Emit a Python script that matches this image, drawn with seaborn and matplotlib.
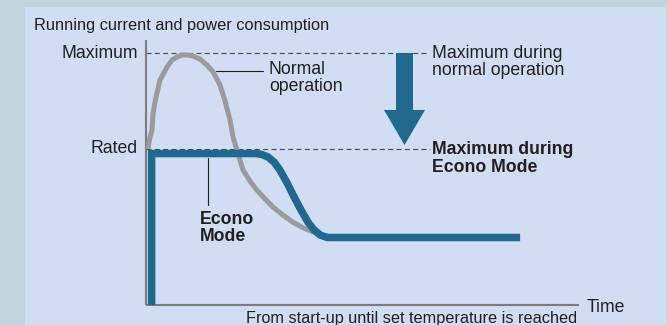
import numpy as np
import pandas as pd
import matplotlib
matplotlib.use("Agg")
import matplotlib.pyplot as plt
from matplotlib.patches import Rectangle, FancyArrow
import seaborn as sns

# Levels (percent of maximum running current)
MAXIMUM = 100
RATED = 62
AXIS_END = 100          # end of the time axis

# Normal operation: overshoots to the maximum, then settles
normal_t = [0.46, 0.92, 1.39, 1.62, 2.31, 3.23, 4.85, 6.0, 7.16, 8.31, 9.47, 10.85,
            12.47, 14.1, 15.5, 17.1, 18.2, 19.4, 20.1, 21.0, 22.4, 24.0, 25.6, 27.5,
            29.3, 31.6, 33.9, 36.3, 38.6, 40.6, 42.5]
normal_level = [61.9, 66.7, 69.4, 76.2, 82.5, 89.3, 94.4, 97.2, 98.4, 99.2, 99.2, 98.8,
                97.6, 95.2, 92.5, 87.3, 81.3, 73.4, 66.7, 61.5, 53.6, 49.2, 45.6, 42.1,
                38.9, 35.7, 32.9, 30.6, 29.0, 27.8, 27.0]

# Econo Mode: capped at the rated level, then settles
econo_t = [1.3, 1.3, 25.6, 26.8, 28.2, 29.6, 30.9, 32.6, 34.2, 35.8, 37.4, 38.8,
           40.2, 41.8, 86.4]
econo_level = [0, 60.1, 60.1, 59.7, 58.7, 56.7, 53.6, 48.4, 42.9, 37.7, 32.9, 29.8,
               27.8, 26.8, 26.8]

y_labels = ["Maximum", "Rated"]
title = "Running current and power consumption"
x_label = "Time"
x_caption = "From start-up until set temperature is reached"
normal_label = "Normal\noperation"
econo_label = "Econo\nMode"
max_normal_text = "Maximum during\nnormal operation"
max_econo_text = "Maximum during\nEcono Mode"

BLUE = "#21688f"
GREY = "#9b9b9b"
TEXT = "#231f20"
AXIS = "#7d7d7d"
OUTER_BG = "#c4d4dd"
INNER_BG = "#d0ddf2"

sns.set_style("white")
plt.rcParams["font.family"] = ["Liberation Sans", "DejaVu Sans"]

W, H = 667, 325
fig = plt.figure(figsize=(W / 100, H / 100), dpi=100, facecolor=OUTER_BG)
panel = Rectangle((25 / W, 0), (666 - 25) / W, (H - 7) / H,
                  transform=fig.transFigure, facecolor=INNER_BG,
                  edgecolor="none", zorder=-10)
fig.patches.append(panel)

ax = fig.add_axes([0, 0, 1, 1], zorder=1)
ax.set_facecolor("none")

# axes lines
ax.plot([0, 0], [0, 105.2], color=AXIS, lw=1.5, solid_capstyle="butt", zorder=2)
ax.plot([0, AXIS_END], [0, 0], color=AXIS, lw=1.5, solid_capstyle="butt", zorder=2)

# reference levels
for lvl, end in [(MAXIMUM, 65.1), (RATED, 65.6)]:
    ax.plot([0, end], [lvl, lvl], color="#4a4a4a", lw=0.8, ls=(0, (4.5, 3)), zorder=1)

normal_df = pd.DataFrame({"t": normal_t, "level": normal_level})
econo_df = pd.DataFrame({"t": econo_t, "level": econo_level})
sns.lineplot(data=normal_df, x="t", y="level", sort=False, estimator=None,
             color=GREY, linewidth=3.6, solid_capstyle="butt",
             solid_joinstyle="round", ax=ax, zorder=3)
sns.lineplot(data=econo_df, x="t", y="level", sort=False, estimator=None,
             color=BLUE, linewidth=5.4, solid_capstyle="butt",
             solid_joinstyle="miter", ax=ax, zorder=4)
# scale: 4.33 px per time unit, 2.52 px per level unit; origin at (146, 305) px
ax.set_xlim(-146 / 4.33, (W - 146) / 4.33)
ax.set_ylim((305 - H) / 2.52, 305 / 2.52)
ax.axis("off")

# reduction arrow from maximum down to the rated level
ax.add_patch(FancyArrow(59.7, MAXIMUM, 0, 63.5 - MAXIMUM, width=17 / 4.33,
                        head_width=41 / 4.33, head_length=35 / 2.52,
                        length_includes_head=True, color=BLUE, lw=0, zorder=3))

fs = 12.7
ax.text(-25.9, 111.1, title, ha="left", va="center", fontsize=11.8, color=TEXT)
ax.text(-1.85, MAXIMUM, y_labels[0], ha="right", va="center", fontsize=fs, color=TEXT)
ax.text(-1.85, RATED + 0.3, y_labels[1], ha="right", va="center", fontsize=fs, color=TEXT)
ax.text(101.8, -1.0, x_label, ha="left", va="center", fontsize=fs, color=TEXT)
ax.text(99.5, -5.4, x_caption, ha="right", va="center", fontsize=11.7, color=TEXT)

ax.text(66.0, 96.4, max_normal_text, ha="left", va="center", fontsize=fs,
        color=TEXT, linespacing=1.05)
ax.text(66.0, 58.2, max_econo_text, ha="left", va="center", fontsize=fs,
        color=TEXT, fontweight="bold", linespacing=1.05)

# series labels with leader lines
ax.plot([16.2, 27.0], [92.9, 92.9], color=TEXT, lw=0.8, zorder=2)
ax.text(28.4, 89.9, normal_label, ha="left", va="center", fontsize=fs,
        color=TEXT, linespacing=1.0)
ax.plot([14.3, 14.3], [58.3, 39.7], color=TEXT, lw=0.8, zorder=5)
ax.text(12.5, 30.5, econo_label, ha="left", va="center", fontsize=fs,
        color=TEXT, fontweight="bold", linespacing=1.0)

fig.savefig("out.png", dpi=100, facecolor=OUTER_BG)
